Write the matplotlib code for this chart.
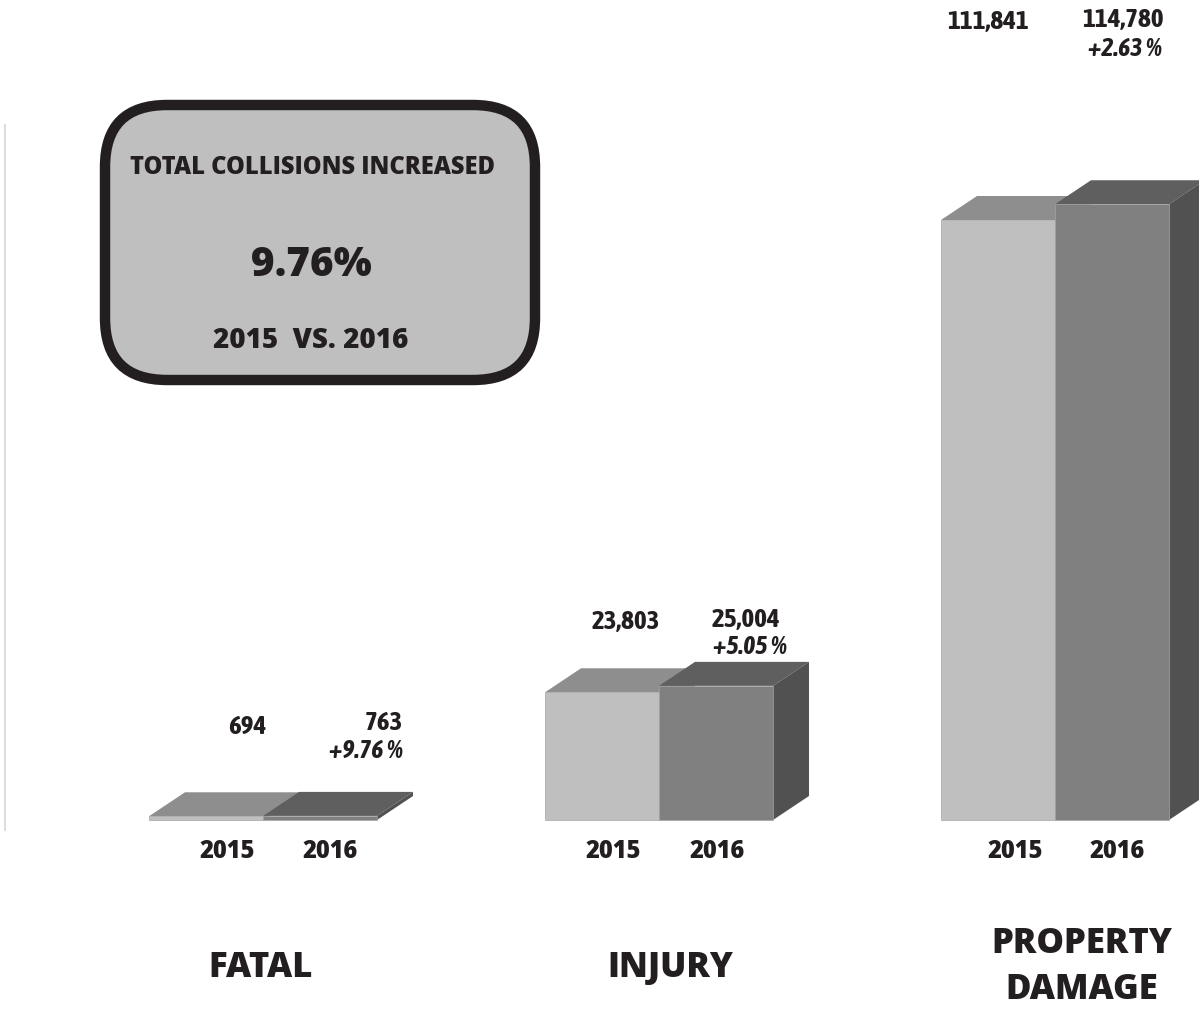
import numpy as np
import matplotlib
matplotlib.use("Agg")
import matplotlib.pyplot as plt
from matplotlib.patches import Polygon, FancyBboxPatch
from matplotlib.transforms import IdentityTransform

# data
categories = ["FATAL", "INJURY", "PROPERTY\nDAMAGE"]
years = ["2015", "2016"]
v2015 = [694, 23803, 111841]
v2016 = [763, 25004, 114780]
pct_change = ["+9.76 %", "+5.05 %", "+2.63 %"]
box_lines = ["TOTAL COLLISIONS INCREASED", "9.76%", "2015  VS. 2016"]

W, H, DPI = 1199, 1009, 100
ink = "#231f20"
front_c = ["#bfbfbf", "#808080"]
top_c = ["#8e8e8e", "#5e5f5e"]
side_c = ["#8e8e8e", "#515151"]
depth = (36, 24)  # px, 3d offset

fig = plt.figure(figsize=(W / DPI, H / DPI), dpi=DPI)
fig.patch.set_facecolor("white")

# bar axes: group junction 263px, 396px per group, baseline at 820px from top
ax = fig.add_axes([0, 0, 1, 1])
ax.set_axis_off()
px_per_x = 396.0
px_per_v = 600.0 / 111841
ax.set_xlim(-263 / px_per_x, (W - 263) / px_per_x)
ax.set_ylim(-(H - 820) / px_per_v, 820 / px_per_v)

bw = 114 / px_per_x
xs = np.arange(len(categories))
dx, dy = depth
for i, x in enumerate(xs):
    for j, vals in enumerate([v2015, v2016]):
        xl = x - bw if j == 0 else x
        xr = xl + bw
        (a, b0), (c, bt) = ax.transData.transform([(xl, 0), (xr, vals[i])])
        top = [(a, bt), (c, bt), (c + dx, bt + dy), (a + dx, bt + dy)]
        side = [(c, b0), (c + dx, b0 + dy), (c + dx, bt + dy), (c, bt)]
        ax.add_patch(Polygon(top, closed=True, transform=IdentityTransform(),
                             facecolor=top_c[j], edgecolor="none"))
        ax.add_patch(Polygon(side, closed=True, transform=IdentityTransform(),
                             facecolor=side_c[j], edgecolor="none"))
        ax.bar(xl, vals[i], width=bw, align="edge", color=front_c[j],
               edgecolor="#a5a5a5", linewidth=0.5)

# overlay in pixel coords for text and box
ov = fig.add_axes([0, 0, 1, 1])
ov.set_axis_off()
ov.set_xlim(0, W)
ov.set_ylim(H, 0)
ov.patch.set_alpha(0)

ov.plot([5, 5], [125, 830], color="#dedede", lw=1.6)

sans = ["Open Sans", "DejaVu Sans"]
narrow = ["Asap Condensed", "Barlow Semi Condensed", "DejaVu Sans"]

box = FancyBboxPatch((105, 105), 430, 275, boxstyle="round,pad=0,rounding_size=62",
                     facecolor="#bfbfbf", edgecolor=ink, linewidth=7.5)
ov.add_patch(box)
ov.text(312, 168, box_lines[0], ha="center", va="center", fontsize=17,
        fontweight="heavy", family=sans, color=ink)
ov.text(311, 266, box_lines[1], ha="center", va="center", fontsize=29,
        fontweight="heavy", family=sans, color=ink)
ov.text(311, 340, box_lines[2], ha="center", va="center", fontsize=20,
        fontweight="heavy", family=sans, color=ink)

val_pos15 = [(247, 727), (626, 621), (988, 22)]
val_pos16 = [(384, 722), (746, 619), (1123, 20)]
pct_pos = [(366, 751), (750, 647), (1125, 49)]
for i in range(len(categories)):
    ov.text(*val_pos15[i], f"{v2015[i]:,}", ha="center", va="center",
            fontsize=19.5, fontweight="bold", family=narrow, color=ink)
    ov.text(*val_pos16[i], f"{v2016[i]:,}", ha="center", va="center",
            fontsize=19.5, fontweight="bold", family=narrow, color=ink)
    ov.text(*pct_pos[i], pct_change[i], ha="center", va="center",
            fontsize=18.5, fontweight="bold", style="italic", family=narrow,
            color=ink)

year_x = [(227, 330), (613, 717), (1015, 1117)]
for i in range(len(categories)):
    for j in range(2):
        ov.text(year_x[i][j], 852, years[j], ha="center", va="center",
                fontsize=17, fontweight="heavy", family=sans, color=ink)

cat_pos = [(261, 968), (670, 968), (1082, 967)]
for i, c in enumerate(categories):
    ov.text(*cat_pos[i], c, ha="center", va="center", fontsize=25,
            fontweight="heavy", family=sans, color=ink,
            linespacing=1.35)

fig.savefig("out.png", dpi=DPI, facecolor="white")
